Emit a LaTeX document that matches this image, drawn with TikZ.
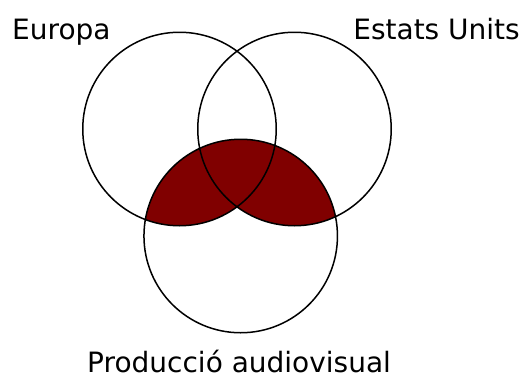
\documentclass[tikz,border=0pt]{standalone}
\usepackage{fontspec}
\setmainfont{DejaVu Sans}
\definecolor{venn}{HTML}{800000}
\begin{document}
\begin{tikzpicture}[x=1pt,y=-1pt,
  setc/.style={circle,draw=black,line width=1.5pt,minimum size=193.5pt,inner sep=0pt},
  lbl/.style={inner sep=0pt,text depth=0pt,font=\fontsize{28}{30}\selectfont}]
\useasboundingbox[fill=white] (0,0) rectangle (522,378);
\coordinate (ca) at (179.5,129);
\coordinate (cb) at (294.5,129);
\coordinate (cc) at (240.7,236);
\begin{scope}
  \clip (cc) circle (96.7);
  \fill[venn] (ca) circle (96.7);
  \fill[venn] (cb) circle (96.7);
\end{scope}
\node[setc] (eu) at (ca) {};
\node[setc] (us) at (cb) {};
\node[setc] (av) at (cc) {};
\node[lbl,anchor=base west] (leu) at (12,39.3) {Europa};
\node[lbl,anchor=base east] (lus) at (520,39.3) {Estats Units};
\node[lbl,anchor=base west] (lav) at (87,372.5) {Producció audiovisual};
\end{tikzpicture}
\end{document}
